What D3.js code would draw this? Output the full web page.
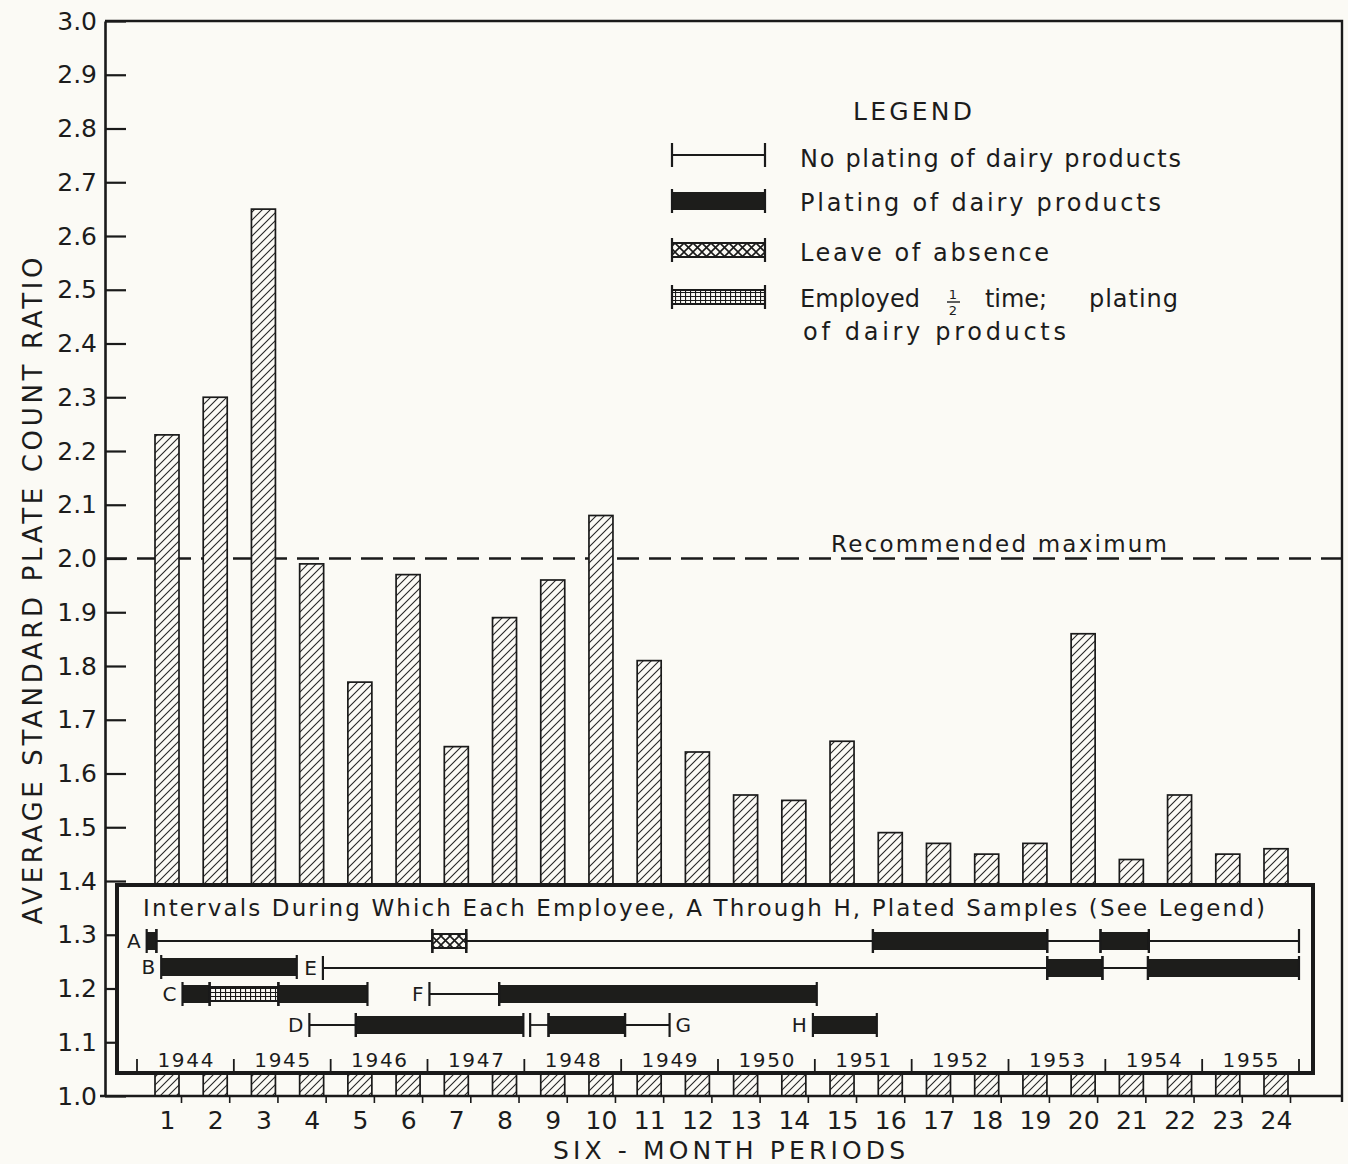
<!DOCTYPE html>
<html>
<head>
<meta charset="utf-8">
<script src="https://cdn.jsdelivr.net/npm/d3@7"></script>
<style>
  body { margin: 0; background: #fbfaf5; }
  svg { display: block; }
  text { font-family: "DejaVu Sans", sans-serif; fill: #1c1c1c; }
</style>
</head>
<body>
<svg id="chart"></svg>
<script>
// six-month periods and the average SPC ratio for each
var periods = [1, 2, 3, 4, 5, 6, 7, 8, 9, 10, 11, 12, 13, 14, 15, 16, 17, 18, 19, 20, 21, 22, 23, 24]
var ratios = [2.23, 2.30, 2.65, 1.99, 1.77, 1.97, 1.65, 1.89, 1.96, 2.08, 1.81, 1.64,
              1.56, 1.55, 1.66, 1.49, 1.47, 1.45, 1.47, 1.86, 1.44, 1.56, 1.45, 1.46]
var yTicks = [1.0, 1.1, 1.2, 1.3, 1.4, 1.5, 1.6, 1.7, 1.8, 1.9, 2.0,
              2.1, 2.2, 2.3, 2.4, 2.5, 2.6, 2.7, 2.8, 2.9, 3.0]
var recommendedMax = 2.0
var years = [1944, 1945, 1946, 1947, 1948, 1949, 1950, 1951, 1952, 1953, 1954, 1955]

// employee intervals: [from, to, kind]  N = no plating, P = plating, L = leave, H = half time
var empA = [[1944.1, 1944.2, 'P'], [1944.2, 1947.05, 'N'], [1947.05, 1947.4, 'L'], [1947.4, 1951.6, 'N'],
            [1951.6, 1953.4, 'P'], [1953.4, 1953.95, 'N'], [1953.95, 1954.45, 'P'], [1954.45, 1956.0, 'N']]
var empB = [[1944.25, 1945.65, 'P']]
var empC = [[1944.47, 1944.75, 'P'], [1944.75, 1945.46, 'H'], [1945.46, 1946.38, 'P']]
var empD = [[1945.78, 1946.26, 'N'], [1946.26, 1947.99, 'P']]
var empE = [[1945.92, 1953.4, 'N'], [1953.4, 1953.97, 'P'], [1953.97, 1954.44, 'N'], [1954.44, 1956.0, 'P']]
var empF = [[1947.02, 1947.74, 'N'], [1947.74, 1951.02, 'P']]
var empG = [[1948.06, 1948.25, 'N'], [1948.25, 1949.04, 'P'], [1949.04, 1949.5, 'N']]
var empH = [[1950.98, 1951.64, 'P']]

var legendKinds = ['N', 'P', 'L', 'H']

window.onload = () => {
    var width = 1348, height = 1164
    var paper = '#fbfaf5', ink = '#1a1a1a'

    var svg = d3.select('#chart')
        .attr('width', width)
        .attr('height', height)

    svg.append('rect').attr('width', width).attr('height', height).attr('fill', paper)

    var plot = { left: 105, right: 1342, top: 21, bottom: 1096 }

    var x = d3.scaleLinear().domain([1, 24]).range([167, 1276])
    var y = d3.scaleLinear().domain([1, 3]).range([plot.bottom, plot.top])
    var yr = d3.scaleLinear().domain([1944, 1956]).range([137, 1299])

    //// patterns
    var defs = svg.append('defs')

    var hatch = defs.append('pattern').attr('id', 'hatch')
        .attr('patternUnits', 'userSpaceOnUse').attr('width', 8).attr('height', 8)
    hatch.append('rect').attr('width', 8).attr('height', 8).attr('fill', paper)
    hatch.append('path').attr('d', 'M-2,2L2,-2M0,8L8,0M6,10L10,6')
        .attr('stroke', '#262626').attr('stroke-width', 1.1)

    var cross = defs.append('pattern').attr('id', 'cross')
        .attr('patternUnits', 'userSpaceOnUse').attr('width', 9).attr('height', 9)
    cross.append('rect').attr('width', 9).attr('height', 9).attr('fill', paper)
    cross.append('path').attr('d', 'M0,0L9,9M9,0L0,9')
        .attr('stroke', '#1a1a1a').attr('stroke-width', 1.6)

    var grid = defs.append('pattern').attr('id', 'grid')
        .attr('patternUnits', 'userSpaceOnUse').attr('width', 5).attr('height', 4)
    grid.append('rect').attr('width', 5).attr('height', 4).attr('fill', paper)
    grid.append('path').attr('d', 'M0,0.5H5M0.5,0V4')
        .attr('stroke', '#1a1a1a').attr('stroke-width', 1.2)

    //// recommended maximum (dashed, behind the bars)
    svg.append('line')
        .attr('x1', plot.left).attr('x2', plot.right)
        .attr('y1', y(recommendedMax)).attr('y2', y(recommendedMax))
        .attr('stroke', ink).attr('stroke-width', 2.4)
        .attr('stroke-dasharray', '22,10')

    svg.append('text')
        .attr('x', 831).attr('y', 552)
        .attr('textLength', 336).attr('lengthAdjust', 'spacing')
        .style('font-size', '23px')
        .text('Recommended maximum')

    //// bars
    svg.append('g')
        .selectAll('rect')
        .data(periods)
        .join('rect')
        .attr('x', d => x(d) - 12)
        .attr('width', 24)
        .attr('y', (d, i) => y(ratios[i]))
        .attr('height', (d, i) => y(1) - y(ratios[i]))
        .attr('fill', 'url(#hatch)')
        .attr('stroke', ink)
        .attr('stroke-width', 1.7)

    //// axes
    var yAxis = d3.axisLeft(y)
        .tickValues(yTicks)
        .tickFormat(d3.format('.1f'))
        .tickSizeInner(-21)
        .tickSizeOuter(0)
        .tickPadding(8)

    var yg = svg.append('g')
        .attr('transform', 'translate(' + plot.left + ',0)')
        .call(yAxis)
    yg.select('.domain').attr('stroke', ink).attr('stroke-width', 2.6)
    yg.selectAll('.tick line').attr('stroke', ink).attr('stroke-width', 2.2)
    yg.selectAll('.tick text').style('font-size', '25px').attr('fill', ink)

    var xAxis = d3.axisBottom(x)
        .tickValues(periods)
        .tickSizeInner(7)
        .tickSizeOuter(0)
        .tickPadding(8)

    var xg = svg.append('g')
        .attr('transform', 'translate(0,' + plot.bottom + ')')
        .call(xAxis)
    xg.select('.domain').remove()
    xg.selectAll('.tick line').attr('x1', 14).attr('x2', 14).attr('stroke', ink).attr('stroke-width', 1.6)
    xg.selectAll('.tick text').style('font-size', '25px').attr('fill', ink)

    // frame: top, right, bottom
    svg.append('path')
        .attr('d', 'M' + plot.left + ',' + plot.top + 'H' + plot.right + 'V' + (plot.bottom + 6))
        .attr('fill', 'none').attr('stroke', ink).attr('stroke-width', 2.4)
    svg.append('line')
        .attr('x1', plot.left - 5).attr('x2', plot.right)
        .attr('y1', plot.bottom).attr('y2', plot.bottom)
        .attr('stroke', ink).attr('stroke-width', 2.6)

    // axis titles
    svg.append('text')
        .attr('transform', 'translate(42,591) rotate(-90)')
        .attr('text-anchor', 'middle')
        .attr('textLength', 667).attr('lengthAdjust', 'spacing')
        .style('font-size', '26px')
        .text('AVERAGE STANDARD PLATE COUNT RATIO')

    svg.append('text')
        .attr('x', 553).attr('y', 1159)
        .attr('textLength', 352).attr('lengthAdjust', 'spacing')
        .style('font-size', '25px')
        .text('SIX - MONTH PERIODS')

    //// segment drawing, used by legend and inset
    function drawSegment(g, x0, x1, cy, kind) {
        if (kind === 'N') {
            g.append('line').attr('x1', x0).attr('x2', x1).attr('y1', cy).attr('y2', cy)
                .attr('stroke', ink).attr('stroke-width', 1.8)
        } else if (kind === 'P') {
            g.append('rect').attr('x', x0).attr('width', x1 - x0).attr('y', cy - 9).attr('height', 18)
                .attr('fill', '#1d1d1b')
        } else {
            g.append('rect').attr('x', x0).attr('width', x1 - x0).attr('y', cy - 7).attr('height', 14)
                .attr('fill', kind === 'L' ? 'url(#cross)' : 'url(#grid)')
                .attr('stroke', ink).attr('stroke-width', 2)
        }
        ;[x0, x1].forEach(function (xx) {
            g.append('line').attr('x1', xx).attr('x2', xx).attr('y1', cy - 12).attr('y2', cy + 12)
                .attr('stroke', ink).attr('stroke-width', 2.2)
        })
    }

    //// legend
    var legend = svg.append('g')
    legend.append('text')
        .attr('x', 853).attr('y', 120)
        .attr('textLength', 119).attr('lengthAdjust', 'spacing')
        .style('font-size', '25px')
        .text('LEGEND')

    var legendY = [155, 201, 250, 297]
    legendKinds.forEach(function (k, i) {
        drawSegment(legend, 672, 765, legendY[i], k)
    })

    var legendText = [
        { t: 'No plating of dairy products', x: 800, y: 167, w: 381 },
        { t: 'Plating of dairy products', x: 800, y: 211, w: 361 },
        { t: 'Leave of absence', x: 800, y: 261, w: 249 },
        { t: 'Employed', x: 800, y: 307, w: 120 },
        { t: 'time;', x: 985, y: 307, w: 62 },
        { t: 'plating', x: 1089, y: 307, w: 89 },
        { t: 'of dairy products', x: 803, y: 340, w: 263 }
    ]
    legend.selectAll('text.item')
        .data(legendText)
        .join('text')
        .attr('class', 'item')
        .attr('x', d => d.x).attr('y', d => d.y)
        .attr('textLength', d => d.w).attr('lengthAdjust', 'spacing')
        .style('font-size', '24px')
        .text(d => d.t)

    // the 1/2 fraction
    legend.append('text').attr('x', 953).attr('y', 299).attr('text-anchor', 'middle')
        .style('font-size', '13px').text('1')
    legend.append('line').attr('x1', 947).attr('x2', 960).attr('y1', 302).attr('y2', 302)
        .attr('stroke', ink).attr('stroke-width', 1.4)
    legend.append('text').attr('x', 953).attr('y', 315).attr('text-anchor', 'middle')
        .style('font-size', '13px').text('2')

    //// inset box of employee intervals
    var inset = svg.append('g')
    inset.append('rect')
        .attr('x', 117).attr('y', 885).attr('width', 1196).attr('height', 188)
        .attr('fill', paper).attr('stroke', ink).attr('stroke-width', 4)

    inset.append('text')
        .attr('x', 143).attr('y', 916)
        .attr('textLength', 1122).attr('lengthAdjust', 'spacing')
        .style('font-size', '23px')
        .text('Intervals During Which Each Employee, A Through H, Plated Samples (See Legend)')

    inset.selectAll('text.year')
        .data(years)
        .join('text')
        .attr('class', 'year')
        .attr('x', d => yr(d + 0.5))
        .attr('y', 1067)
        .attr('text-anchor', 'middle')
        .attr('textLength', 56).attr('lengthAdjust', 'spacing')
        .style('font-size', '20px')
        .text(d => d)

    inset.selectAll('line.yeartick')
        .data(years.concat([years[years.length - 1] + 1]))
        .join('line')
        .attr('class', 'yeartick')
        .attr('x1', d => yr(d)).attr('x2', d => yr(d))
        .attr('y1', 1059).attr('y2', 1072)
        .attr('stroke', ink).attr('stroke-width', 1.8)

    var employees = [
        { name: 'A', segs: empA, cy: 941, side: 'left' },
        { name: 'B', segs: empB, cy: 967, side: 'left' },
        { name: 'C', segs: empC, cy: 994, side: 'left' },
        { name: 'D', segs: empD, cy: 1025, side: 'left' },
        { name: 'E', segs: empE, cy: 968, side: 'left' },
        { name: 'F', segs: empF, cy: 994, side: 'left' },
        { name: 'G', segs: empG, cy: 1025, side: 'right' },
        { name: 'H', segs: empH, cy: 1025, side: 'left' }
    ]

    employees.forEach(function (e) {
        var g = inset.append('g')
        e.segs.forEach(function (s) {
            drawSegment(g, yr(s[0]), yr(s[1]), e.cy, s[2])
        })
        var first = yr(e.segs[0][0]), last = yr(e.segs[e.segs.length - 1][1])
        g.append('text')
            .attr('x', e.side === 'left' ? first - 6 : last + 6)
            .attr('y', e.cy + 7)
            .attr('text-anchor', e.side === 'left' ? 'end' : 'start')
            .style('font-size', '20px')
            .text(e.name)
    })
}
</script>
</body>
</html>
